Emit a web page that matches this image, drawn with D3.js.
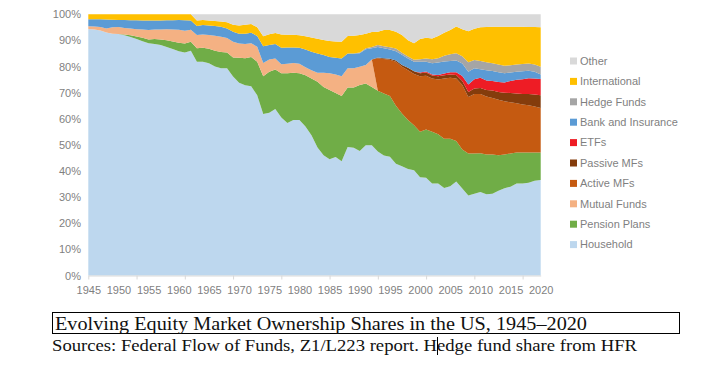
<!DOCTYPE html>
<html>
<head>
<meta charset="utf-8">
<script src="https://cdn.jsdelivr.net/npm/d3@7"></script>
<style>
  body { margin: 0; background: #fff; }
  .axis text { font-family: "Liberation Sans", Arial, sans-serif; font-size: 11px; fill: #7f7f7f; }
  .legend text { font-family: "Liberation Sans", Arial, sans-serif; font-size: 11px; fill: #7f7f7f; }
</style>
</head>
<body>
<script>
// share of US equity market by owner, percent, 1945-2020
var years = d3.range(1945, 2021);

var household = [
  94.4, 94.2, 93.8, 93.0, 92.6, 92.5, 92.0, 91.3, 90.5, 89.7,
  88.9, 88.6, 88.2, 87.5, 86.7, 85.9, 85.4, 86.0, 81.8, 81.8,
  81.3, 80.0, 79.3, 79.3, 76.2, 73.8, 72.8, 72.5, 69.0, 61.8,
  62.3, 63.7, 60.5, 58.4, 59.5, 59.5, 57.0, 53.7, 49.0, 46.0,
  44.5, 45.4, 43.7, 49.2, 48.9, 47.7, 49.9, 49.9, 47.5, 45.9,
  45.5, 42.8, 41.8, 40.8, 40.3, 37.6, 37.4, 35.2, 35.2, 33.5,
  34.2, 36.0, 33.3, 30.6, 31.3, 32.0, 31.1, 31.3, 32.4, 33.4,
  34.0, 35.2, 35.2, 35.5, 36.3, 36.6];

var pensionPlans = [
  0, 0, 0, 0, 0, 0, 0.3, 0.7, 1.0, 1.3,
  1.5, 1.9, 2.2, 2.6, 2.9, 3.2, 3.4, 3.5, 5.2, 5.4,
  5.5, 6.0, 6.3, 6.1, 7.3, 9.6, 10.4, 11.2, 12.8, 14.5,
  15.7, 15.2, 16.9, 19.0, 18.1, 17.9, 19.7, 21.7, 25.2, 26.2,
  26.5, 24.5, 25.0, 22.8, 23.1, 25.2, 23.6, 22.3, 23.2, 23.8,
  23.2, 22.2, 20.2, 18.7, 17.2, 17.4, 18.5, 19.8, 18.9, 18.9,
  18.2, 15.5, 14.9, 16.1, 15.4, 14.8, 15.2, 15.0, 13.6, 12.9,
  12.7, 11.9, 11.9, 11.6, 10.8, 10.5];

var mutualFunds = [
  1.0, 1.1, 1.3, 1.6, 2.4, 2.6, 2.5, 2.6, 2.8, 3.2,
  3.6, 3.7, 3.8, 4.2, 4.6, 5.0, 4.9, 4.6, 5.1, 5.1,
  5.3, 5.8, 5.8, 5.5, 6.0, 5.4, 5.4, 5.2, 5.8, 5.1,
  4.7, 4.2, 3.5, 3.7, 3.8, 3.7, 3.0, 3.2, 3.4, 5.4,
  6.4, 7.1, 7.6, 7.3, 7.3, 7.0, 7.1, 10.5, 0, 0,
  0, 0, 0, 0, 0, 0, 0, 0, 0, 0,
  0, 0, 0, 0, 0, 0, 0, 0, 0, 0,
  0, 0, 0, 0, 0, 0];

var activeMFs = [
  0, 0, 0, 0, 0, 0, 0, 0, 0, 0,
  0, 0, 0, 0, 0, 0, 0, 0, 0, 0,
  0, 0, 0, 0, 0, 0, 0, 0, 0, 0,
  0, 0, 0, 0, 0, 0, 0, 0, 0, 0,
  0, 0, 0, 0, 0, 0, 0, 0, 12.5, 13.2,
  13.9, 16.8, 17.9, 19.1, 19.6, 21.3, 20.6, 20.4, 20.9, 23.0,
  23.3, 23.9, 24.7, 21.6, 22.8, 22.7, 22.2, 21.7, 21.3, 20.4,
  19.6, 18.8, 18.4, 18.1, 17.6, 17.0];

var passiveMFs = [
  0, 0, 0, 0, 0, 0, 0, 0, 0, 0,
  0, 0, 0, 0, 0, 0, 0, 0, 0, 0,
  0, 0, 0, 0, 0, 0, 0, 0, 0, 0,
  0, 0, 0, 0, 0, 0, 0, 0, 0, 0,
  0, 0, 0, 0, 0, 0, 0, 0, 0.3, 0.3,
  0.4, 0.5, 0.7, 0.9, 1.1, 1.1, 1.2, 1.2, 1.3, 1.3,
  1.3, 1.4, 1.6, 2.0, 2.1, 2.3, 2.5, 2.8, 3.0, 3.3,
  3.6, 3.8, 4.0, 4.3, 4.6, 4.9];

var etfs = [
  0, 0, 0, 0, 0, 0, 0, 0, 0, 0,
  0, 0, 0, 0, 0, 0, 0, 0, 0, 0,
  0, 0, 0, 0, 0, 0, 0, 0, 0, 0,
  0, 0, 0, 0, 0, 0, 0, 0, 0, 0,
  0, 0, 0, 0, 0, 0, 0, 0, 0, 0,
  0, 0, 0, 0, 0, 0.3, 0.4, 0.4, 0.5, 0.6,
  0.8, 1.0, 1.9, 2.8, 3.5, 3.9, 3.7, 3.7, 3.8, 3.9,
  4.6, 5.2, 5.6, 6.0, 6.1, 6.2];

var bankInsurance = [
  2.7, 2.8, 3.0, 3.4, 2.9, 2.7, 3.0, 3.1, 3.4, 3.4,
  3.6, 3.4, 3.4, 3.4, 3.5, 3.7, 4.0, 3.5, 3.4, 3.6,
  3.6, 3.7, 3.8, 3.7, 3.8, 3.8, 4.0, 4.0, 4.1, 6.4,
  5.5, 5.5, 6.3, 6.2, 5.9, 6.1, 6.8, 7.1, 7.4, 6.8,
  6.3, 6.4, 6.8, 5.7, 5.7, 5.2, 6.0, 4.3, 4.0, 3.8,
  3.5, 3.6, 3.9, 3.6, 3.6, 4.1, 3.7, 4.3, 4.7, 4.6,
  4.3, 4.5, 4.8, 4.9, 4.2, 3.3, 3.9, 3.8, 3.7, 3.5,
  3.2, 3.1, 3.1, 2.9, 2.6, 1.8];

var hedgeFunds = [
  0, 0, 0, 0, 0, 0, 0, 0, 0, 0,
  0, 0, 0, 0, 0, 0, 0, 0, 0, 0,
  0, 0, 0, 0, 0, 0, 0, 0, 0, 0,
  0, 0, 0, 0, 0, 0, 0, 0, 0, 0,
  0, 0, 0, 0, 0, 0.3, 0.4, 0.5, 0.7, 0.8,
  0.9, 1.0, 0.8, 0.7, 0.8, 1.0, 1.3, 1.5, 1.7, 2.2,
  2.6, 2.8, 2.7, 3.6, 3.2, 3.1, 3.0, 3.0, 3.0, 2.9,
  2.8, 2.8, 2.8, 2.8, 2.8, 2.9];

var international = [
  1.9, 1.9, 1.9, 2.0, 2.1, 2.2, 2.2, 2.3, 2.3, 2.4,
  2.4, 2.4, 2.4, 2.3, 2.3, 2.2, 2.3, 2.4, 2.1, 1.9,
  1.9, 1.9, 2.0, 2.4, 2.7, 3.1, 3.4, 3.4, 3.3, 3.8,
  4.2, 4.2, 5.1, 4.9, 4.9, 4.8, 5.1, 5.4, 5.6, 5.8,
  6.1, 6.2, 6.4, 6.7, 6.8, 6.7, 5.6, 5.7, 5.1, 6.2,
  6.6, 6.4, 6.8, 6.3, 6.3, 7.7, 7.9, 7.9, 8.5, 8.8,
  9.3, 10.2, 10.4, 11.9, 12.0, 12.9, 13.5, 13.9, 14.4, 14.9,
  14.7, 14.4, 14.2, 13.9, 14.3, 15.1];

var other = [
  0, 0, 0, 0, 0, 0, 0, 0, 0, 0,
  0, 0, 0, 0, 0, 0, 0, 0, 2.4, 2.2,
  2.4, 2.6, 2.8, 3.0, 4.0, 4.3, 4.0, 3.7, 5.0, 8.4,
  7.6, 7.2, 7.7, 7.8, 7.8, 8.0, 8.4, 8.9, 9.4, 9.8,
  10.2, 10.4, 10.5, 8.3, 8.2, 7.9, 7.4, 6.8, 6.7, 6.0,
  6.0, 6.7, 7.9, 9.9, 11.1, 9.5, 9.0, 9.3, 8.3, 7.1,
  6.0, 4.7, 5.7, 6.5, 5.5, 5.0, 4.9, 4.8, 4.8, 4.8,
  4.8, 4.8, 4.8, 4.9, 4.9, 5.0];

// bottom to top
var seriesNames = ["Household", "Pension Plans", "Mutual Funds", "Active MFs", "Passive MFs",
  "ETFs", "Bank and Insurance", "Hedge Funds", "International", "Other"];
var seriesValues = [household, pensionPlans, mutualFunds, activeMFs, passiveMFs,
  etfs, bankInsurance, hedgeFunds, international, other];
var colors = ["#bdd7ee", "#70ad47", "#f4b183", "#c55a11", "#843c0c",
  "#ee1c25", "#5b9bd5", "#a5a5a5", "#ffc000", "#d9d9d9"];

var yTicks = [0, 0.1, 0.2, 0.3, 0.4, 0.5, 0.6, 0.7, 0.8, 0.9, 1];
var yearLabels = d3.range(1945, 2021, 5);
var yearTickMarks = d3.range(1945, 2021, 8);

var table = years.map(function(yr, i) {
  var row = { year: yr };
  seriesNames.forEach(function(name, k) { row[name] = seriesValues[k][i]; });
  return row;
});

var svg = d3.select("body").append("svg")
  .attr("width", 714)
  .attr("height", 370);

var x = d3.scaleLinear().domain([1945, 2020]).range([88.3, 540.7]);
var y = d3.scaleLinear().domain([0, 1]).range([275.5, 14.3]);
var color = d3.scaleOrdinal().domain(seriesNames).range(colors);

var stacked = d3.stack()
  .keys(seriesNames)
  .offset(d3.stackOffsetExpand)(table);

var area = d3.area()
  .x(function(d) { return x(d.data.year); })
  .y0(function(d) { return y(d[0]); })
  .y1(function(d) { return y(d[1]); });

svg.append("g")
  .selectAll("path")
  .data(stacked)
  .join("path")
  .attr("d", area)
  .attr("fill", function(d) { return color(d.key); });

// y axis labels, no line
var yAxis = svg.append("g")
  .attr("class", "axis")
  .attr("transform", "translate(88,0)")
  .call(d3.axisLeft(y).tickValues(yTicks).tickFormat(d3.format(".0%")).tickSize(0).tickPadding(7));
yAxis.select(".domain").remove();

// x axis: line + tick marks every 8 years
var xMarks = svg.append("g")
  .attr("transform", "translate(0,275.5)")
  .call(d3.axisBottom(x).tickValues(yearTickMarks).tickFormat("").tickSize(4).tickSizeOuter(0));
xMarks.select(".domain").attr("stroke", "#d9d9d9");
xMarks.selectAll(".tick line").attr("stroke", "#d9d9d9");

// x labels every 5 years
var xLabels = svg.append("g")
  .attr("class", "axis")
  .attr("transform", "translate(0,275.5)")
  .call(d3.axisBottom(x).tickValues(yearLabels).tickFormat(d3.format("d")).tickSize(0).tickPadding(11));
xLabels.select(".domain").remove();

// legend, top entry = top series
var legend = svg.append("g").attr("class", "legend");
var legendNames = seriesNames.slice().reverse();
legendNames.forEach(function(name, i) {
  var ly = 61 + i * 20.4;
  legend.append("rect")
    .attr("x", 570).attr("y", ly - 3.5)
    .attr("width", 7).attr("height", 7)
    .attr("fill", color(name));
  legend.append("text")
    .attr("x", 580).attr("y", ly)
    .attr("dy", "0.35em")
    .text(name);
});

// caption below the chart
svg.append("rect")
  .attr("x", 52.5).attr("y", 312.5)
  .attr("width", 627).attr("height", 21)
  .attr("fill", "none").attr("stroke", "#000").attr("stroke-width", 1);

svg.append("text")
  .attr("x", 55).attr("y", 330)
  .attr("font-family", "'Liberation Serif', 'DejaVu Serif', serif")
  .attr("font-size", 19)
  .attr("fill", "#111")
  .attr("textLength", 532)
  .attr("lengthAdjust", "spacingAndGlyphs")
  .text("Evolving Equity Market Ownership Shares in the US, 1945\u20132020");

var sourceText = "Sources: Federal Flow of Funds, Z1/L223 report. Hedge fund share from HFR";
var sources = svg.append("text")
  .attr("x", 52).attr("y", 351)
  .attr("font-family", "'Liberation Serif', 'DejaVu Serif', serif")
  .attr("font-size", 16.5)
  .attr("fill", "#111")
  .attr("textLength", 585)
  .attr("lengthAdjust", "spacingAndGlyphs")
  .text(sourceText);

// text cursor left in the source, just after the "H" of "Hedge"
var cursorX = sources.node().getStartPositionOfChar(sourceText.indexOf("Hedge") + 1).x;
svg.append("line")
  .attr("x1", Math.round(cursorX) + 0.5).attr("x2", Math.round(cursorX) + 0.5)
  .attr("y1", 337).attr("y2", 355)
  .attr("stroke", "#000").attr("stroke-width", 1);
</script>
</body>
</html>
